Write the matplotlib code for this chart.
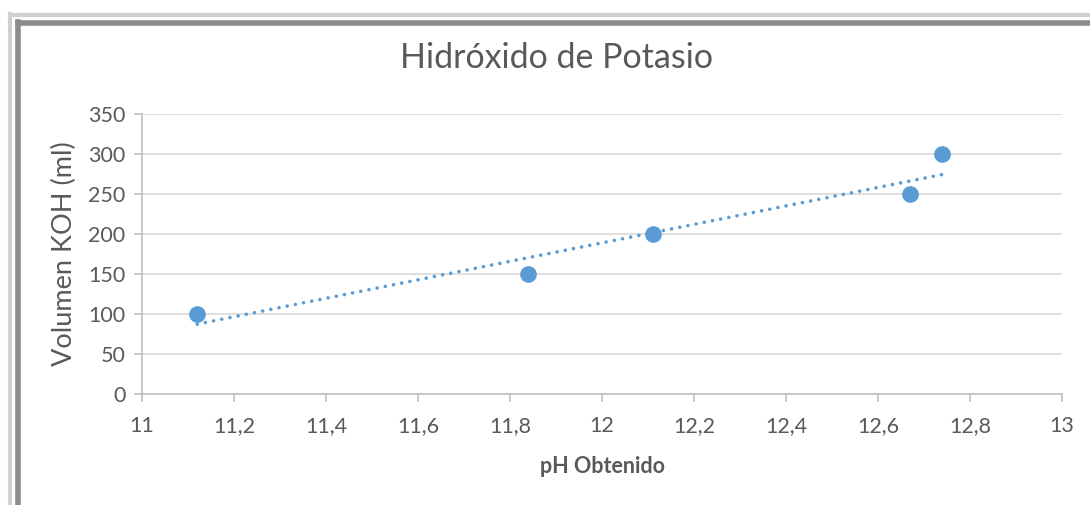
import matplotlib
matplotlib.use("Agg")
import matplotlib.pyplot as plt
from matplotlib.lines import Line2D
import numpy as np

ph_values = [11.12, 11.84, 12.11, 12.67, 12.74]
volume_koh = [100, 150, 200, 250, 300]
x_ticks = [11, 11.2, 11.4, 11.6, 11.8, 12, 12.2, 12.4, 12.6, 12.8, 13]
y_ticks = [0, 50, 100, 150, 200, 250, 300, 350]

blue = "#5b9bd5"
grid_gray = "#d9d9d9"
text_gray = "#595959"

plt.rcParams["font.family"] = ["Lato", "DejaVu Sans"]

fig = plt.figure(figsize=(10.9, 5.05), dpi=100)
ax = fig.add_axes([142 / 1090, 1 - 394 / 505, 920 / 1090, 280 / 505])

# frame around the chart (left and top edges only visible)
for x0, color, lw in [(10 / 1090, "#d0d0d0", 3), (18 / 1090, "#8c8c8c", 4)]:
    fig.add_artist(Line2D([x0, x0], [0, 1 - (x0 * 1090 + 4) / 505], color=color, lw=lw,
                          transform=fig.transFigure))
for y0px, color, lw in [(15, "#d0d0d0", 3), (23, "#8c8c8c", 4)]:
    y0 = 1 - y0px / 505
    fig.add_artist(Line2D([(y0px - 5) / 1090, 1], [y0, y0], color=color, lw=lw,
                          transform=fig.transFigure))

coef = np.polyfit(ph_values, volume_koh, 1)
trend_x = np.array([min(ph_values), max(ph_values)])
ax.plot(trend_x, np.polyval(coef, trend_x), color=blue, lw=2.6, linestyle=(0, (0.01, 2.3)),
        dash_capstyle="round", zorder=2)
ax.plot(ph_values, volume_koh, "o", color=blue, markersize=11, zorder=3)

ax.set_xlim(11, 13)
ax.set_ylim(0, 350)
ax.set_xticks(x_ticks)
ax.set_yticks(y_ticks)
ax.set_xticklabels([f"{t:g}".replace(".", ",") for t in x_ticks])
ax.grid(axis="y", color=grid_gray, lw=1.2)
ax.set_axisbelow(True)
for side in ["top", "right"]:
    ax.spines[side].set_visible(False)
ax.spines["left"].set_color("#bfbfbf")
ax.spines["bottom"].set_color("#bfbfbf")
ax.spines["left"].set_linewidth(1.2)
ax.spines["bottom"].set_linewidth(1.2)
ax.tick_params(axis="both", colors="#bfbfbf", labelcolor=text_gray, labelsize=15.5,
               length=6, width=1.2)
ax.tick_params(axis="x", pad=10)
ax.tick_params(axis="y", pad=6)

ax.set_ylabel("Volumen KOH (ml)", fontsize=19.5, color=text_gray, labelpad=8)
ax.set_xlabel("pH Obtenido", fontsize=15.5, color=text_gray, fontweight="bold", labelpad=14)
fig.text(557 / 1090, 1 - 58 / 505, "Hidróxido de Potasio", fontsize=24.5, color=text_gray,
         ha="center", va="center")

fig.savefig("out.png", dpi=100)
